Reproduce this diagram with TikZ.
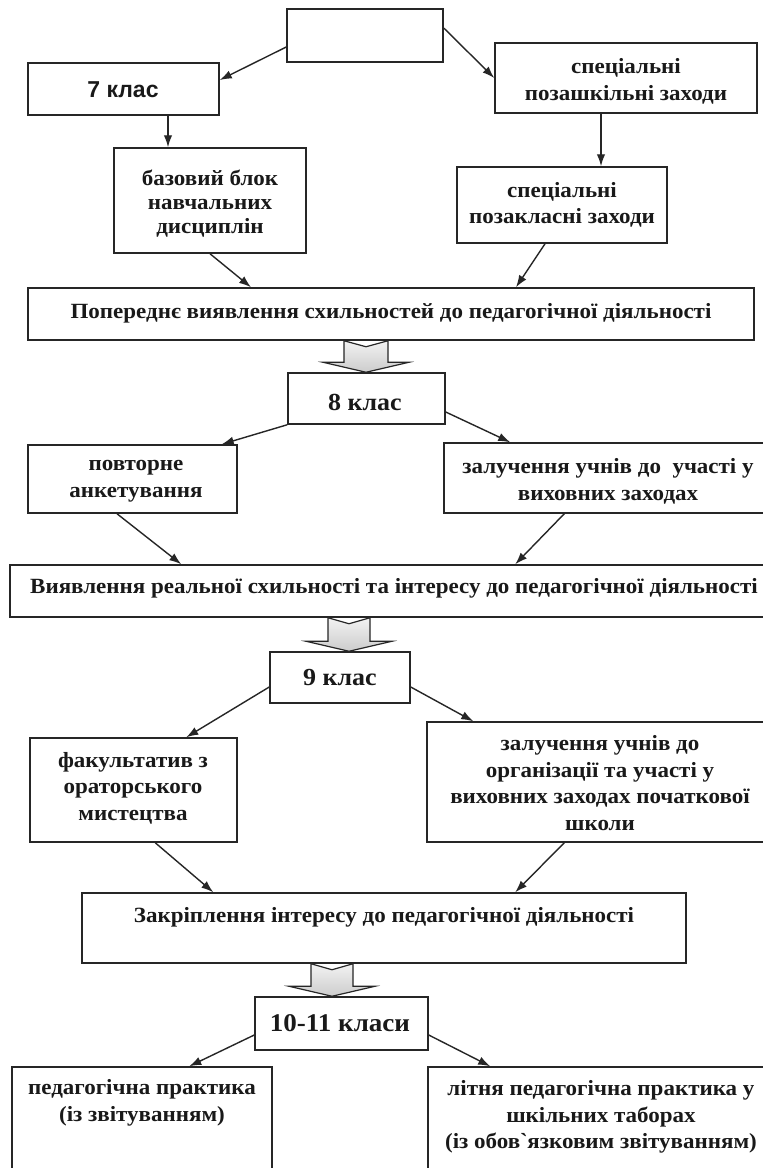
\documentclass[tikz,border=0pt]{standalone}
\usepackage{fontspec}
\setmainfont{Liberation Serif}[FakeStretch=1.06]
\newfontfamily\sansfam{Liberation Sans}
\usetikzlibrary{arrows.meta,calc}
\tikzset{
  box/.style={draw=black!85, line width=1.5pt, inner sep=0pt},
  txt/.style={font=\bfseries\fontsize{21.7}{27}\selectfont, align=center, inner sep=0pt, text=black!90},
  cls/.style={font=\bfseries\fontsize{24.5}{30}\selectfont, inner sep=0pt, text=black!90},
  conn/.style={-{Latex[length=12pt,width=8.5pt]}, line width=1.4pt, draw=black!85},
  blockarr/.style={draw=black!85, line width=1.2pt, top color=gray!10, bottom color=gray!40}
}
\newcommand{\hollowarrow}[6]{%
  \draw[blockarr] let \p1=(#1.south), \p2=(#2.north) in
   ({#3pt-#4pt},\y1) -- ({#3pt},{\y1-6pt}) -- ({#3pt+#4pt},\y1)
   -- ({#3pt+#4pt},{\y2+#6pt}) -- ({#3pt+#5pt},{\y2+#6pt}) -- ({#3pt},\y2)
   -- ({#3pt-#5pt},{\y2+#6pt}) -- ({#3pt-#4pt},{\y2+#6pt}) -- cycle;}
\begin{document}
\begin{tikzpicture}[x=1pt,y=-1pt]
\useasboundingbox (0,0) rectangle (763,1168);
\fill[white] (0,0) rectangle (763,1168);
\clip (0,0) rectangle (763,1168);

% boxes
\node[box, minimum width=156pt, minimum height=53pt] (top) at (365,35.5) {};
\node[box, minimum width=191pt, minimum height=52pt] (k7) at (123.5,89) {};
\node[box, minimum width=262pt, minimum height=70pt] (pozash) at (626,78) {};
\node[box, minimum width=192pt, minimum height=105pt] (baz) at (210,200.5) {};
\node[box, minimum width=210pt, minimum height=76pt] (pozak) at (562,205) {};
\node[box, minimum width=726pt, minimum height=52pt] (poper) at (391,314) {};
\node[box, minimum width=157pt, minimum height=51pt] (k8) at (366.5,398.5) {};
\node[box, minimum width=209pt, minimum height=68pt] (povt) at (132.5,479) {};
\node[box, minimum width=328pt, minimum height=70pt] (zal1) at (608,478) {};
\node[box, minimum width=768pt, minimum height=52pt] (vyav) at (394,591) {};
\node[box, minimum width=140pt, minimum height=51pt] (k9) at (340,677.5) {};
\node[box, minimum width=207pt, minimum height=104pt] (fak) at (133.5,790) {};
\node[box, minimum width=348pt, minimum height=120pt] (zal2) at (601,782) {};
\node[box, minimum width=604pt, minimum height=70pt] (zakr) at (384,928) {};
\node[box, minimum width=173pt, minimum height=53pt] (k1011) at (341.5,1023.5) {};
\node[box, minimum width=260pt, minimum height=120pt] (ped) at (142,1127) {};
\node[box, minimum width=346pt, minimum height=120pt] (lit) at (601,1127) {};

% texts
\node[font=\sansfam\bfseries\fontsize{23}{28}\selectfont, inner sep=0pt, text=black!90] (t7) at (123,90) {7 клас};
\node[txt] (tpozash) at (626,81) {спеціальні\\позашкільні заходи};
\node[txt, font=\bfseries\fontsize{21.7}{24}\selectfont] (tbaz) at (210,204) {базовий блок\\навчальних\\дисциплін};
\node[txt, font=\bfseries\fontsize{21.7}{26}\selectfont] (tpozak) at (562,205) {спеціальні\\позакласні заходи};
\node[txt] (tpoper) at (391,313) {Попереднє виявлення схильностей до педагогічної діяльності};
\node[cls] (t8) at (365,402) {8 клас};
\node[txt] (tpovt) at (136,481) {повторне\\анкетування};
\node[txt] (tzal1) at (608,481) {залучення учнів до\ \ участі у\\виховних заходах};
\node[txt] (tvyav) at (394,588) {Виявлення реальної схильності та інтересу до педагогічної діяльності};
\node[cls] (t9) at (340,677) {9 клас};
\node[txt, font=\bfseries\fontsize{21.7}{26.5}\selectfont] (tfak) at (133,788) {факультатив з\\ораторського\\мистецтва};
\node[txt, font=\bfseries\fontsize{21.7}{26.5}\selectfont] (tzal2) at (600,783) {залучення учнів до\\організації та участі у\\виховних заходах початкової\\школи};
\node[txt] (tzakr) at (384,917) {Закріплення інтересу до педагогічної діяльності};
\node[cls, font=\bfseries\fontsize{25.5}{30}\selectfont] (t1011) at (340,1023) {10-11 класи};
\node[txt] (tped) at (142,1103) {педагогічна практика\\(із звітуванням)};
\node[txt, font=\bfseries\fontsize{21.7}{26.5}\selectfont] (tlit) at (601,1117) {літня педагогічна практика у\\шкільних таборах\\(із обов\textasciigrave язковим звітуванням)};

% connectors
\draw[conn] ([yshift=-11.5pt]top.west) -- ([yshift=9pt]k7.east);
\draw[conn] ([yshift=7.5pt]top.east) -- (pozash.west);
\draw[conn] ([xshift=44.5pt]k7.south) -- ([xshift=44.5pt]k7.south |- baz.north);
\draw[conn] ([xshift=-25pt]pozash.south) -- ([xshift=-25pt]pozash.south |- pozak.north);
\draw[conn] (baz.south) -- ([xshift=-140pt]poper.north);
\draw[conn] ([xshift=-17pt]pozak.south) -- ([xshift=125pt]poper.north);
\draw[conn] (k8.south west) -- ([xshift=-16pt]povt.north east);
\draw[conn] ([yshift=-13.5pt]k8.east) -- ([xshift=67pt]zal1.north west);
\draw[conn] ([xshift=-15.5pt]povt.south) -- ([xshift=172pt]vyav.north west);
\draw[conn] ([xshift=121pt]zal1.south west) -- ([xshift=506pt]vyav.north west);
\draw[conn] ([yshift=-9.5pt]k9.west) -- ([xshift=157pt]fak.north west);
\draw[conn] ([yshift=-9.5pt]k9.east) -- ([xshift=47pt]zal2.north west);
\draw[conn] ([xshift=126pt]fak.south west) -- ([xshift=132pt]zakr.north west);
\draw[conn] ([xshift=138pt]zal2.south west) -- ([xshift=434pt]zakr.north west);
\draw[conn] ([yshift=-11.5pt]k1011.west) -- ([xshift=178pt]ped.north west);
\draw[conn] ([yshift=-11.5pt]k1011.east) -- ([xshift=63pt]lit.north west);

% block arrows
\hollowarrow{poper}{k8}{366}{22}{43}{10}
\hollowarrow{vyav}{k9}{349}{21}{43}{10}
\hollowarrow{zakr}{k1011}{332}{21}{43}{10}
\end{tikzpicture}
\end{document}
